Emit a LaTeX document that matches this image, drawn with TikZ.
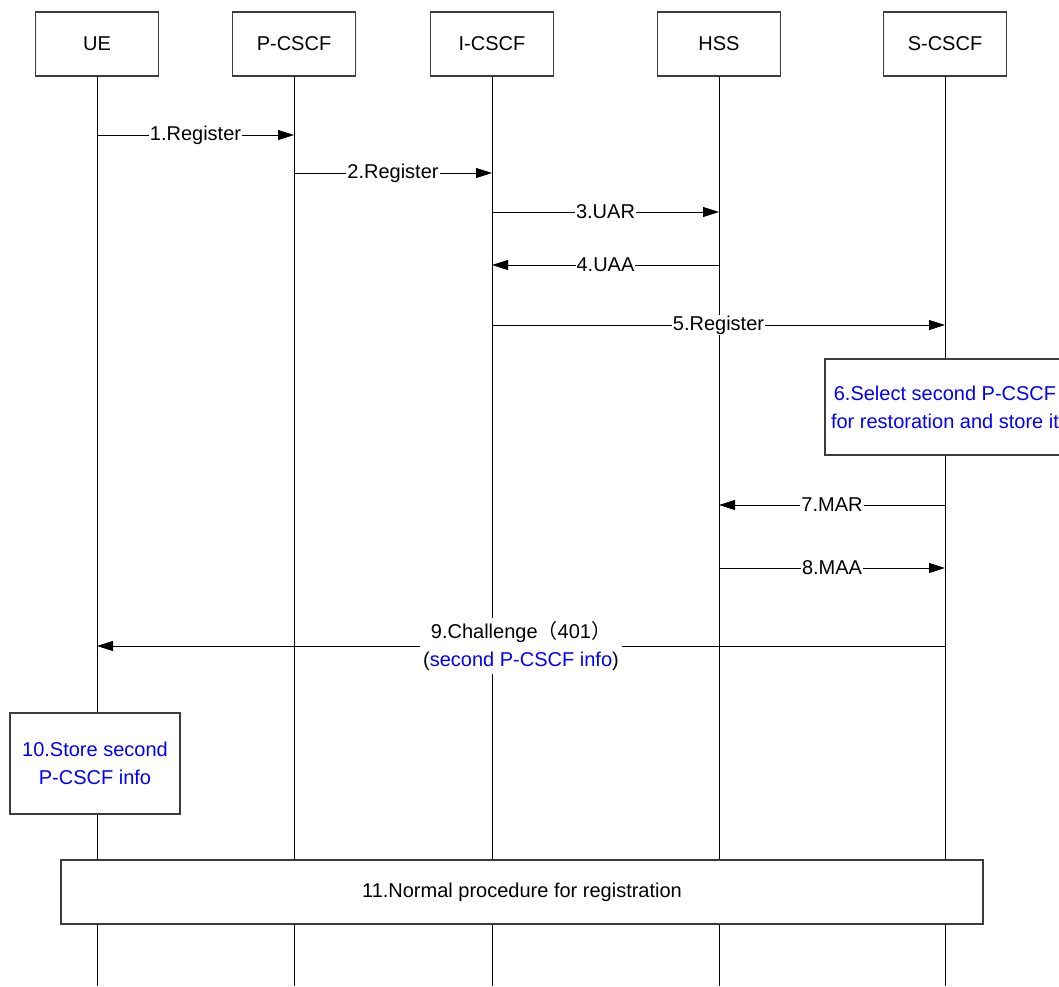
\documentclass[tikz,border=0pt]{standalone}
\usepackage{fontspec}
\setmainfont{Liberation Sans}
\newfontfamily\cjkfont{Noto Sans CJK SC}
\usetikzlibrary{arrows.meta}
\definecolor{stepblue}{RGB}{0,0,255}
\definecolor{boxgray}{RGB}{60,60,60}
\begin{document}
\begin{tikzpicture}[x=1pt,y=-1pt,
  every node/.style={font=\fontsize{20}{28}\selectfont},
  entity/.style={draw=boxgray,line width=1.2pt,fill=white,minimum width=123pt,minimum height=64pt,inner sep=0pt},
  actionbox/.style={draw=boxgray,line width=1.2pt,fill=white,inner sep=0pt,text=stepblue,align=center},
  lifeline/.style={line width=0.8pt,black},
  msg/.style={line width=0.8pt,-{Triangle[length=16pt,width=10pt]}},
  msglabel/.style={fill=white,inner sep=1pt,midway}]
\useasboundingbox (0,0) rectangle (1059,986);
\clip (0,0) rectangle (1059,986);

% header boxes for the five entities
\node[entity] (ue)    at (97,44)  {UE};
\node[entity] (pcscf) at (294,44) {P-CSCF};
\node[entity] (icscf) at (492,44) {I-CSCF};
\node[entity] (hss)   at (719,44) {HSS};
\node[entity] (scscf) at (945,44) {S-CSCF};

% lifeline ends
\coordinate (ueE) at (97,986);
\coordinate (pE)  at (294,986);
\coordinate (iE)  at (492,986);
\coordinate (hE)  at (719,986);
\coordinate (sE)  at (945,986);

\draw[lifeline] (ue.south) -- (ueE);
\draw[lifeline] (pcscf.south) -- (pE);
\draw[lifeline] (icscf.south) -- (iE);
\draw[lifeline] (hss.south) -- (hE);
\draw[lifeline] (scscf.south) -- (sE);

% message anchor points on the lifelines
\coordinate (m1a) at (97,135);  \coordinate (m1b) at (294,135);
\coordinate (m2a) at (294,173); \coordinate (m2b) at (492,173);
\coordinate (m3a) at (492,212); \coordinate (m3b) at (719,212);
\coordinate (m4a) at (719,265); \coordinate (m4b) at (492,265);
\coordinate (m5a) at (492,325); \coordinate (m5b) at (945,325);
\coordinate (m7a) at (945,505); \coordinate (m7b) at (719,505);
\coordinate (m8a) at (719,568); \coordinate (m8b) at (945,568);
\coordinate (m9a) at (945,646); \coordinate (m9b) at (97,646);

\draw[msg] (m1a) -- node[msglabel] (l1) {1.Register} (m1b);
\draw[msg] (m2a) -- node[msglabel] (l2) {2.Register} (m2b);
\draw[msg] (m3a) -- node[msglabel] (l3) {3.UAR} (m3b);
\draw[msg] (m4a) -- node[msglabel] (l4) {4.UAA} (m4b);
\draw[msg] (m5a) -- node[msglabel] (l5) {5.Register} (m5b);
\draw[msg] (m7a) -- node[msglabel] (l7) {7.MAR} (m7b);
\draw[msg] (m8a) -- node[msglabel] (l8) {8.MAA} (m8b);
\draw[msg] (m9a) -- node[msglabel,align=center,inner sep=3pt] (l9)
  {9.Challenge{\cjkfont （}401{\cjkfont ）}\\(\textcolor{stepblue}{second P-CSCF info})} (m9b);

% local actions
\node[actionbox,minimum width=240pt,minimum height=96pt] (a6) at (945,407)
  {6.Select second P-CSCF\\for restoration and store it};
\node[actionbox,minimum width=170pt,minimum height=101pt] (a10) at (95,763.5)
  {10.Store second\\P-CSCF info};
\node[actionbox,text=black,minimum width=922pt,minimum height=64pt] (a11) at (522,892)
  {11.Normal procedure for registration};
\end{tikzpicture}
\end{document}
